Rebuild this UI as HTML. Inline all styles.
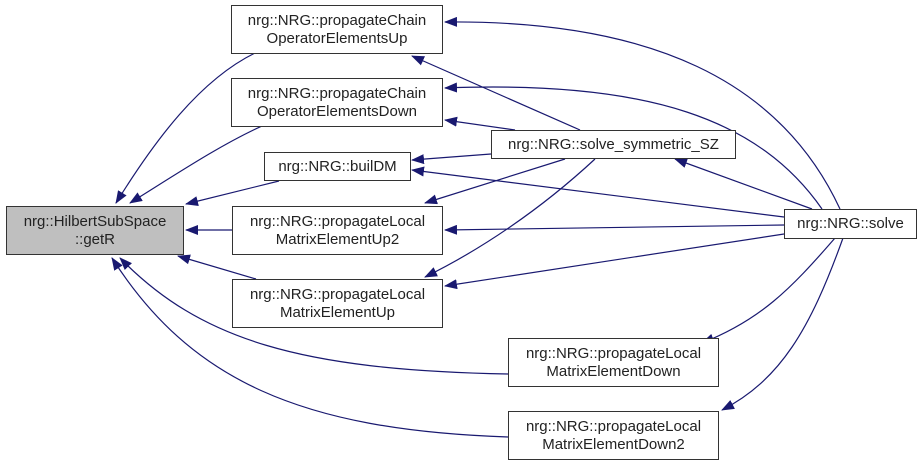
<!DOCTYPE html>
<html><head><meta charset="utf-8"><style>
body{margin:0;background:#fff;width:923px;height:465px;overflow:hidden}
.n{position:absolute;border:1px solid #333;background:#fff;box-sizing:border-box;font-family:"Liberation Sans",sans-serif;font-size:15px;line-height:18px;text-align:center;color:#222;display:flex;align-items:center;justify-content:center}
</style></head><body>
<svg width="923" height="465" style="position:absolute;left:0;top:0">
<defs><marker id="a" markerWidth="13" markerHeight="10" refX="12" refY="5" orient="auto" markerUnits="userSpaceOnUse"><path d="M0,0L13,5L0,10z" fill="#191970"/></marker></defs>
<g fill="none" stroke="#191970" stroke-width="1.2" marker-end="url(#a)">
<path d="M255,53 C200,80 155,140 116,203"/>
<path d="M262,126 C220,145 175,175 130,203"/>
<path d="M279,181 L186,204"/>
<path d="M232,230 L186,230"/>
<path d="M256,279 L178,256"/>
<path d="M508,374 C300,370 200,340 120,258"/>
<path d="M508,437 C300,430 190,380 112,258"/>
<path d="M580,130 L412,56"/>
<path d="M515,130 L445,120"/>
<path d="M491,154 L412,160"/>
<path d="M565,159 L425,203"/>
<path d="M595,159 C540,210 480,250 425,277"/>
<path d="M840,209 C780,80 650,20 445,22"/>
<path d="M822,209 C760,120 650,80 445,88"/>
<path d="M812,209 L675,159"/>
<path d="M784,217 L412,170"/>
<path d="M784,225 L445,230"/>
<path d="M784,234 L445,286"/>
<path d="M835,238 C790,290 760,320 702,343"/>
<path d="M843,238 C810,330 780,380 722,410"/>
</g></svg>
<div class="n" style="left:6px;top:206px;width:178px;height:49px;background:#bfbfbf">nrg::HilbertSubSpace<br>::getR</div>
<div class="n" style="left:231px;top:5px;width:212px;height:49px">nrg::NRG::propagateChain<br>OperatorElementsUp</div>
<div class="n" style="left:231px;top:78px;width:212px;height:49px">nrg::NRG::propagateChain<br>OperatorElementsDown</div>
<div class="n" style="left:264px;top:152px;width:147px;height:29px">nrg::NRG::builDM</div>
<div class="n" style="left:232px;top:206px;width:211px;height:49px">nrg::NRG::propagateLocal<br>MatrixElementUp2</div>
<div class="n" style="left:232px;top:279px;width:211px;height:49px">nrg::NRG::propagateLocal<br>MatrixElementUp</div>
<div class="n" style="left:491px;top:130px;width:245px;height:29px">nrg::NRG::solve_symmetric_SZ</div>
<div class="n" style="left:784px;top:209px;width:133px;height:30px">nrg::NRG::solve</div>
<div class="n" style="left:508px;top:338px;width:211px;height:49px">nrg::NRG::propagateLocal<br>MatrixElementDown</div>
<div class="n" style="left:508px;top:411px;width:211px;height:49px">nrg::NRG::propagateLocal<br>MatrixElementDown2</div>
</body></html>
